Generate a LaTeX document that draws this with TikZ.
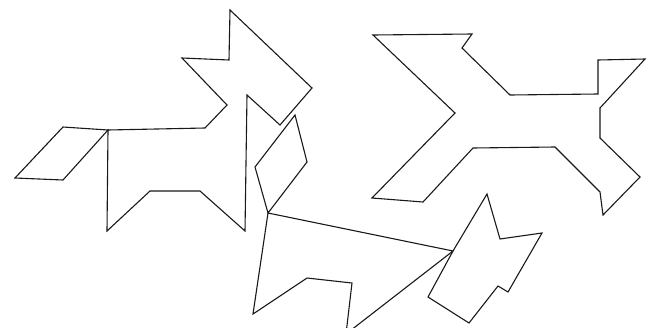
\documentclass[tikz,border=0pt]{standalone}
\usepackage{tikz}

\begin{document}
\begin{tikzpicture}[
  x=1pt, y={(0pt,-1pt)},
  piece/.style={draw=black!90,line width=1.1pt,line join=miter,fill=none},
]
\useasboundingbox (0,0) rectangle (648,327);
\clip (0,0) rectangle (648,327);

% ---------- horse ----------
\draw[piece] (108,130) -- (107,231) -- (150,191) -- (200,191) -- (245,231)
  -- (247,95) -- (280,125) -- (312,88) -- (230,10) -- (229,60) -- (182,58)
  -- (227,105) -- (205,128) -- cycle;
\draw[piece] (108,130) -- (63,127) -- (15,178) -- (63,180) -- cycle;
\draw[piece] (295,115) -- (307,162) -- (268,213) -- (255,167) -- cycle;

% ---------- dog ----------
\draw[piece] (268,213) -- (453,251) -- (346,334) -- (352,283) -- (307,278)
  -- (253,314) -- cycle;
\draw[piece] (453,251) -- (487,194) -- (500,239) -- (542,233) -- (508,292)
  -- (498,286) -- (469,323) -- (428,297) -- cycle;

% ---------- bird ----------
\draw[piece] (373,35) -- (472,34) -- (462,48) -- (510,95) -- (598,94)
  -- (598,60) -- (645,59) -- (600,108) -- (600,138) -- (640,177)
  -- (603,215) -- (600,192) -- (555,147) -- (473,148) -- (423,202)
  -- (372,198) -- (455,113) -- cycle;
\end{tikzpicture}
\end{document}
